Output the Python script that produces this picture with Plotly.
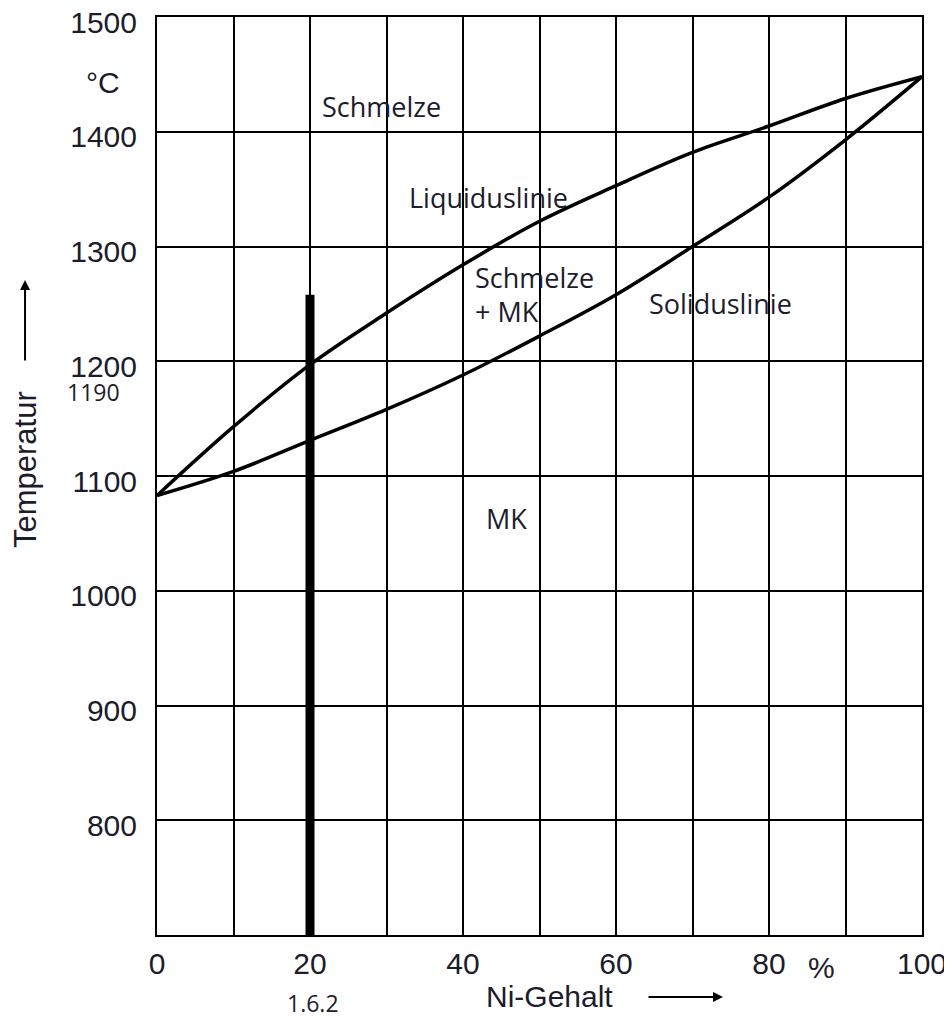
import plotly.graph_objects as go

# Data
ni = [0, 10, 20, 30, 40, 50, 60, 70, 80, 90, 100]
liquidus = [1083, 1143, 1197, 1242, 1284, 1322, 1353, 1382, 1405, 1429, 1448]
solidus = [1083, 1104, 1131, 1158, 1188, 1222, 1258, 1300, 1343, 1393, 1448]
bar_x = [20, 20]
bar_y = [700, 1258]

x_ticks = list(range(0, 101, 10))
x_labels = ["0", "", "20", "", "40", "", "60", "", "80", "", "100"]
y_ticks = list(range(700, 1501, 100))
y_labels = ["", "800", "900", "1000", "1100", "1200", "1300", "1400", "1500"]

TXT = "#1c1c2c"
ANN_FONT = dict(family="Open Sans", size=27, color=TXT)
AX_FONT = dict(family="Liberation Sans, Arial", size=30, color=TXT)

fig = go.Figure()
fig.add_trace(go.Scatter(x=ni, y=liquidus, mode="lines", line=dict(color="black", width=3.5, shape="spline", smoothing=1.0),
                         name="Liquiduslinie", showlegend=False))
fig.add_trace(go.Scatter(x=ni, y=solidus, mode="lines", line=dict(color="black", width=3.5, shape="spline", smoothing=1.0),
                         name="Soliduslinie", showlegend=False))
fig.add_trace(go.Scatter(x=bar_x, y=bar_y, mode="lines", line=dict(color="black", width=9),
                         showlegend=False, cliponaxis=False))

# labels inside the plot (data coordinates)
data_anns = [
    dict(x=29.3, y=1422, text="Schmelze"),
    dict(x=43.3, y=1343, text="Liquiduslinie"),
    dict(x=41.3, y=1273, text="Schmelze", xanchor="left"),
    dict(x=41.3, y=1243, text="+ MK", xanchor="left"),
    dict(x=73.6, y=1250, text="Soliduslinie"),
    dict(x=45.7, y=1063, text="MK"),
]
for a in data_anns:
    a.setdefault("xanchor", "center")
    fig.add_annotation(xref="x", yref="y", showarrow=False, yanchor="middle", font=ANN_FONT, **a)

# labels outside the plot (paper coordinates)
paper_anns = [
    dict(x=-0.0706, y=0.929, text="°C", font=AX_FONT),
    dict(x=-0.0824, y=0.5915, text="1190", font=dict(family="Open Sans", size=23, color=TXT)),
    dict(x=0.204, y=-0.0745, text="1.6.2", font=dict(family="Open Sans", size=23, color=TXT)),
    dict(x=0.868, y=-0.0349, text="%", font=AX_FONT),
    dict(x=0.5137, y=-0.0675, text="Ni-Gehalt", font=AX_FONT),
    dict(x=-0.1725, y=0.5065, text="Temperatur", font=dict(family="Liberation Sans, Arial", size=31, color=TXT),
         textangle=-90),
]
for a in paper_anns:
    fig.add_annotation(xref="paper", yref="paper", showarrow=False, xanchor="center", yanchor="middle", **a)

# arrows
fig.add_annotation(xref="paper", yref="paper", x=0.7399, y=-0.0675, ax=-76, ay=0,
                   showarrow=True, arrowhead=2, arrowsize=1, arrowwidth=2, arrowcolor="black", text="")
fig.add_annotation(xref="paper", yref="paper", x=-0.1725, y=0.7135, ax=0, ay=82,
                   showarrow=True, arrowhead=2, arrowsize=1, arrowwidth=2, arrowcolor="black", text="")

fig.update_xaxes(range=[0, 100], tickvals=x_ticks, ticktext=x_labels, showgrid=True, gridcolor="black",
                 gridwidth=1.5, showline=True, linecolor="black", linewidth=2, mirror=True, zeroline=False,
                 ticks="", ticklabelstandoff=1, tickfont=AX_FONT, automargin=False, ticklabeloverflow="allow")
fig.update_yaxes(range=[700, 1500], tickvals=y_ticks, ticktext=y_labels, showgrid=True, gridcolor="black",
                 gridwidth=1.5, showline=True, linecolor="black", linewidth=2, mirror=True, zeroline=False,
                 ticks="", ticklabelstandoff=12, ticklabelshift=5, tickfont=AX_FONT, automargin=False,
                 ticklabeloverflow="allow")
# page body has an 8px margin, so the figure is shifted by (8, 8)
fig.update_layout(width=944, height=1007, margin=dict(l=149, r=30, t=9, b=80, autoexpand=False),
                  plot_bgcolor="white", paper_bgcolor="white", showlegend=False)
fig.write_html("out.html")
